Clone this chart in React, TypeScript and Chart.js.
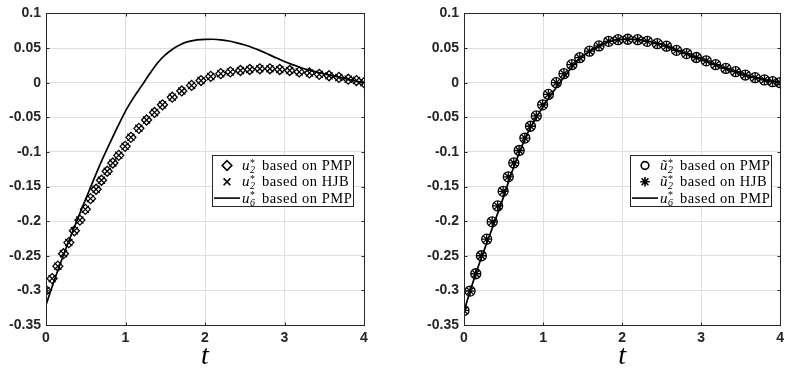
import React, { useEffect, useRef } from "react";
import { Chart, registerables } from "chart.js";

Chart.register(...registerables);

// ---- data ----
const T = [0, 0.077, 0.149, 0.22, 0.287, 0.357, 0.426, 0.495, 0.56, 0.63, 0.698, 0.77, 0.841, 0.915, 0.995, 1.068, 1.168, 1.265, 1.365, 1.465, 1.588, 1.708, 1.831, 1.95, 2.072, 2.198, 2.319, 2.446, 2.563, 2.689, 2.817, 2.94, 3.065, 3.185, 3.314, 3.437, 3.56, 3.684, 3.802, 3.905, 4.0];

const LEFT_U2_PMP = [-0.3, -0.283, -0.265, -0.247, -0.231, -0.214, -0.1985, -0.183, -0.1675, -0.154, -0.141, -0.128, -0.116, -0.105, -0.092, -0.079, -0.066, -0.054, -0.043, -0.032, -0.021, -0.012, -0.004, 0.003, 0.009, 0.013, 0.0155, 0.0175, 0.019, 0.02, 0.02, 0.019, 0.0175, 0.0155, 0.014, 0.012, 0.01, 0.0076, 0.005, 0.003, 0.0];
const LEFT_U2_HJB = [-0.3, -0.283, -0.265, -0.247, -0.231, -0.214, -0.1985, -0.183, -0.1675, -0.154, -0.141, -0.128, -0.116, -0.105, -0.092, -0.079, -0.066, -0.054, -0.043, -0.032, -0.021, -0.012, -0.004, 0.003, 0.009, 0.013, 0.0155, 0.0175, 0.019, 0.02, 0.02, 0.019, 0.0175, 0.0155, 0.014, 0.012, 0.01, 0.0076, 0.005, 0.003, 0.0];

const RIGHT_U2T_PMP = [-0.329, -0.301, -0.276, -0.25, -0.226, -0.201, -0.178, -0.157, -0.136, -0.116, -0.098, -0.08, -0.063, -0.048, -0.032, -0.017, 0.0, 0.013, 0.026, 0.036, 0.0455, 0.053, 0.0597, 0.062, 0.0627, 0.062, 0.0597, 0.0563, 0.0526, 0.0466, 0.042, 0.0363, 0.0315, 0.026, 0.0205, 0.0158, 0.011, 0.0072, 0.0039, 0.0014, 0.0];
const RIGHT_U2T_HJB = [-0.329, -0.301, -0.276, -0.25, -0.226, -0.201, -0.178, -0.157, -0.136, -0.116, -0.098, -0.08, -0.063, -0.048, -0.032, -0.017, 0.0, 0.013, 0.026, 0.036, 0.0455, 0.053, 0.0597, 0.062, 0.0627, 0.062, 0.0597, 0.0563, 0.0526, 0.0466, 0.042, 0.0363, 0.0315, 0.026, 0.0205, 0.0158, 0.011, 0.0072, 0.0039, 0.0014, 0.0];

const T_LINE = [0, 0.1, 0.2, 0.3, 0.4, 0.5, 0.6, 0.7, 0.8, 0.9, 1.0, 1.1, 1.2, 1.3, 1.4, 1.5, 1.6, 1.7, 1.8, 1.9, 2.0, 2.1, 2.2, 2.3, 2.4, 2.5, 2.6, 2.7, 2.8, 2.9, 3.0, 3.1, 3.2, 3.3, 3.4, 3.5, 3.6, 3.7, 3.8, 3.9, 4.0];
const LEFT_U6_PMP = [-0.321, -0.287, -0.255, -0.225, -0.196, -0.168, -0.14, -0.113, -0.088, -0.064, -0.041, -0.022, -0.005, 0.012, 0.028, 0.04, 0.049, 0.0555, 0.0595, 0.0618, 0.0626, 0.0627, 0.0619, 0.0601, 0.0575, 0.0543, 0.0505, 0.0459, 0.0408, 0.0355, 0.0305, 0.026, 0.0219, 0.0184, 0.0153, 0.0126, 0.0101, 0.0075, 0.0048, 0.0022, 0.0];
const RIGHT_U6_PMP = [-0.33, -0.293, -0.259, -0.228, -0.197, -0.165, -0.131, -0.101, -0.074, -0.053, -0.035, -0.018, -0.002, 0.013, 0.027, 0.038, 0.046, 0.0525, 0.058, 0.0612, 0.0625, 0.0627, 0.062, 0.0605, 0.058, 0.055, 0.051, 0.0465, 0.0425, 0.038, 0.034, 0.0295, 0.0255, 0.021, 0.017, 0.0133, 0.0098, 0.0068, 0.0041, 0.0016, 0.0];

const X_TICKS = [0, 1, 2, 3, 4];
const X_TICK_LABELS = ["0", "1", "2", "3", "4"];
const Y_TICKS = [-0.35, -0.3, -0.25, -0.2, -0.15, -0.1, -0.05, 0, 0.05, 0.1];
const Y_TICK_LABELS = ["-0.35", "-0.3", "-0.25", "-0.2", "-0.15", "-0.1", "-0.05", "0", "0.05", "0.1"];
const X_TITLE = "t";

const LEFT_LEGEND = [
  { sym: "u", sub: "2", text: "based on PMP", marker: "rectRot" },
  { sym: "u", sub: "2", text: "based on HJB", marker: "crossRot" },
  { sym: "u", sub: "6", text: "based on PMP", marker: "line" },
];
const RIGHT_LEGEND = [
  { sym: "\u0169", sub: "2", text: "based on PMP", marker: "circle" },
  { sym: "\u0169", sub: "2", text: "based on HJB", marker: "star" },
  { sym: "u", sub: "6", text: "based on PMP", marker: "line" },
];

// ---- styling ----
const AXIS_COLOR = "#262626";
const GRID_COLOR = "#dfdfdf";
const TICK_FONT = { family: "'Liberation Sans', Arial, sans-serif", size: 14, weight: "bold" };
const SERIF = "'Liberation Serif', 'Times New Roman', serif";

function labelFor(values: number[], labels: string[], v: number) {
  const i = values.findIndex((t) => Math.abs(t - v) < 1e-9);
  return i >= 0 ? labels[i] : "";
}

function drawMarker(ctx: CanvasRenderingContext2D, style: string, x: number, y: number, r: number) {
  ctx.beginPath();
  if (style === "rectRot") {
    ctx.moveTo(x, y - r);
    ctx.lineTo(x + r, y);
    ctx.lineTo(x, y + r);
    ctx.lineTo(x - r, y);
    ctx.closePath();
  } else if (style === "crossRot") {
    const d = r * 0.7071;
    ctx.moveTo(x - d, y - d);
    ctx.lineTo(x + d, y + d);
    ctx.moveTo(x + d, y - d);
    ctx.lineTo(x - d, y + d);
  } else if (style === "circle") {
    ctx.arc(x, y, r * 0.8, 0, Math.PI * 2);
  } else if (style === "star") {
    const d = r * 0.7071;
    ctx.moveTo(x - d, y - d);
    ctx.lineTo(x + d, y + d);
    ctx.moveTo(x + d, y - d);
    ctx.lineTo(x - d, y + d);
    ctx.moveTo(x - r, y);
    ctx.lineTo(x + r, y);
    ctx.moveTo(x, y - r);
    ctx.lineTo(x, y + r);
  }
  ctx.stroke();
}

const boxPlugin = {
  id: "matlabBox",
  afterDatasetsDraw(chart: any) {
    const { ctx, chartArea: a, scales } = chart;
    const l = Math.round(a.left) + 0.5;
    const r = Math.round(a.right) + 0.5;
    const t = Math.round(a.top) + 0.5;
    const b = Math.round(a.bottom) + 0.5;
    ctx.save();
    ctx.strokeStyle = AXIS_COLOR;
    ctx.lineWidth = 1;
    ctx.strokeRect(l, t, r - l, b - t);
    const tl = 3;
    ctx.beginPath();
    X_TICKS.forEach((v) => {
      const px = Math.round(scales.x.getPixelForValue(v)) + 0.5;
      ctx.moveTo(px, b);
      ctx.lineTo(px, b - tl);
      ctx.moveTo(px, t);
      ctx.lineTo(px, t + tl);
    });
    Y_TICKS.forEach((v) => {
      const py = Math.round(scales.y.getPixelForValue(v)) + 0.5;
      ctx.moveTo(l, py);
      ctx.lineTo(l + tl, py);
      ctx.moveTo(r, py);
      ctx.lineTo(r - tl, py);
    });
    ctx.stroke();
    ctx.restore();
  },
};

const legendPlugin = {
  id: "matlabLegend",
  afterDraw(chart: any, _args: any, opts: any) {
    const { ctx } = chart;
    const { x, y, w, h, entries } = opts;
    ctx.save();
    ctx.fillStyle = "#ffffff";
    ctx.fillRect(x, y, w, h);
    ctx.strokeStyle = AXIS_COLOR;
    ctx.lineWidth = 1;
    ctx.strokeRect(x + 0.5, y + 0.5, w - 1, h - 1);
    entries.forEach((e: any, i: number) => {
      const cy = y + 10.5 + i * 16.3;
      ctx.strokeStyle = "#000";
      if (e.marker === "line") {
        ctx.lineWidth = 1.6;
        ctx.beginPath();
        ctx.moveTo(x + 2, cy);
        ctx.lineTo(x + 28, cy);
        ctx.stroke();
      } else {
        ctx.lineWidth = 1.6;
        drawMarker(ctx, e.marker, x + 15, cy, 4.8);
      }
      const base = cy + 4.6;
      ctx.fillStyle = "#000";
      ctx.textBaseline = "alphabetic";
      ctx.textAlign = "left";
      ctx.font = `italic 15px ${SERIF}`;
      ctx.fillText(e.sym, x + 30, base);
      const uw = ctx.measureText(e.sym).width;
      ctx.font = `10px ${SERIF}`;
      ctx.fillText("*", x + 30 + uw + 0.5, base - 4.5);
      ctx.font = `italic 10px ${SERIF}`;
      ctx.fillText(e.sub, x + 30 + uw + 0.5, base + 3);
      ctx.font = `14.5px ${SERIF}`;
      (ctx as any).letterSpacing = "0.55px";
      ctx.fillText(e.text, x + 50, base);
      (ctx as any).letterSpacing = "0px";
    });
    ctx.restore();
  },
};

function makeChart(canvas: HTMLCanvasElement, cfg: any) {
  const markerDs = (vals: number[], style: string, order: number) => ({
    data: T.map((t, i) => ({ x: t, y: vals[i] })),
    showLine: false,
    pointStyle: style,
    pointRadius: 5,
    pointBorderWidth: 1.3,
    pointBorderColor: "#000",
    pointBackgroundColor: "rgba(0,0,0,0)",
    order,
  });
  return new Chart(canvas, {
    type: "scatter",
    data: {
      datasets: [
        {
          data: T_LINE.map((t, i) => ({ x: t, y: cfg.line[i] })),
          showLine: true,
          borderColor: "#000",
          borderWidth: 1.7,
          pointRadius: 0,
          cubicInterpolationMode: "monotone",
          order: 0,
        },
        markerDs(cfg.a, cfg.styleA, 2),
        markerDs(cfg.b, cfg.styleB, 1),
      ],
    },
    options: {
      animation: false,
      responsive: false,
      maintainAspectRatio: false,
      events: [],
      layout: { padding: { left: 0, right: cfg.padRight, top: 11, bottom: 0 } },
      plugins: {
        legend: { display: false },
        tooltip: { enabled: false },
        matlabLegend: { x: 212, y: 155, w: 142, h: 52, entries: cfg.legend },
      },
      scales: {
        x: {
          type: "linear",
          min: 0,
          max: 4,
          afterBuildTicks: (s: any) => {
            s.ticks = X_TICKS.map((v) => ({ value: v }));
          },
          afterFit: (s: any) => {
            s.height = 48;
          },
          ticks: {
            callback: (v: number) => labelFor(X_TICKS, X_TICK_LABELS, v),
            font: TICK_FONT,
            color: AXIS_COLOR,
            padding: 5,
            maxRotation: 0,
            autoSkip: false,
          },
          grid: { color: GRID_COLOR, drawTicks: false, lineWidth: 1 },
          border: { display: false },
          title: {
            display: true,
            text: X_TITLE,
            font: { family: SERIF, style: "italic", size: 28, weight: "normal" },
            color: "#000",
            padding: { top: 0, bottom: 0 },
          },
        },
        y: {
          type: "linear",
          min: -0.35,
          max: 0.1,
          afterBuildTicks: (s: any) => {
            s.ticks = Y_TICKS.map((v) => ({ value: v }));
          },
          afterFit: (s: any) => {
            s.width = 46;
          },
          ticks: {
            callback: (v: number) => labelFor(Y_TICKS, Y_TICK_LABELS, v),
            font: TICK_FONT,
            color: AXIS_COLOR,
            padding: 5,
            autoSkip: false,
          },
          grid: { color: GRID_COLOR, drawTicks: false, lineWidth: 1 },
          border: { display: false },
        },
      },
    },
    plugins: [boxPlugin, legendPlugin],
  } as any);
}

export default function App() {
  const leftRef = useRef<HTMLCanvasElement>(null);
  const rightRef = useRef<HTMLCanvasElement>(null);

  useEffect(() => {
    const c1 = makeChart(leftRef.current!, {
      line: LEFT_U6_PMP,
      a: LEFT_U2_PMP,
      b: LEFT_U2_HJB,
      styleA: "rectRot",
      styleB: "crossRot",
      legend: LEFT_LEGEND,
      padRight: 30,
    });
    const c2 = makeChart(rightRef.current!, {
      line: RIGHT_U6_PMP,
      a: RIGHT_U2T_PMP,
      b: RIGHT_U2T_HJB,
      styleA: "circle",
      styleB: "star",
      legend: RIGHT_LEGEND,
      padRight: 7,
    });
    return () => {
      c1.destroy();
      c2.destroy();
    };
  }, []);

  return (
    <div style={{ position: "fixed", left: 0, top: 0, width: 789, height: 373, background: "#fff" }}>
      <canvas
        ref={leftRef}
        width={394}
        height={373}
        style={{ position: "absolute", left: 0, top: 0, width: 394, height: 373 }}
      />
      <canvas
        ref={rightRef}
        width={371}
        height={373}
        style={{ position: "absolute", left: 418, top: 0, width: 371, height: 373 }}
      />
    </div>
  );
}
